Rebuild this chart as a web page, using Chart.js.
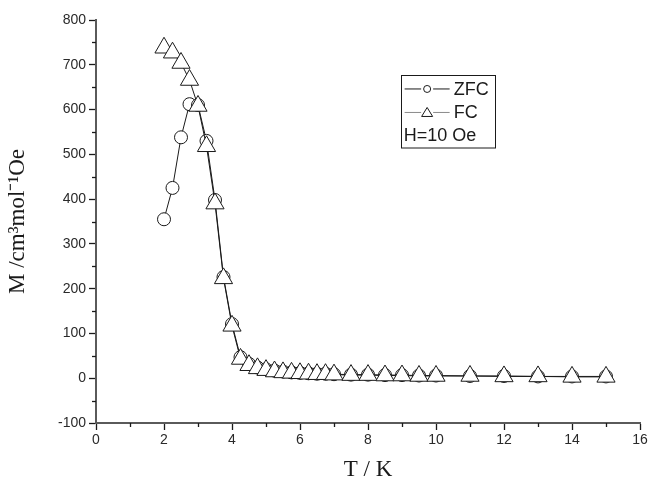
<!DOCTYPE html>
<html>
<head>
<meta charset="utf-8">
<script src="https://cdn.jsdelivr.net/npm/chart.js@4/dist/chart.umd.min.js"></script>
<style>
  html, body { margin: 0; padding: 0; background: #fff; }
  #wrap { width: 653px; height: 488px; }
</style>
</head>
<body>
<div id="wrap"><canvas id="chart" width="653" height="488"></canvas></div>
<script>
// ── Data ───────────────────────────────────────────────────────
const temps = [2, 2.25, 2.5, 2.75, 3, 3.25, 3.5, 3.75, 4, 4.25, 4.5, 4.75, 5, 5.25,
               5.5, 5.75, 6, 6.25, 6.5, 6.75, 7, 7.5, 8, 8.5, 9, 9.5, 10, 11, 12, 13, 14, 15];
const zfc   = [355, 425, 538, 612, 610, 530, 398, 226, 121, 47, 32, 24, 20, 17,
               15, 13, 12, 11, 10, 10, 9, 8, 8, 7, 7, 6, 6, 5, 5, 4, 4, 4];
const fc    = [738, 727, 704, 666, 608, 518, 390, 223, 117, 43, 29, 22, 18, 15,
               13, 12, 11, 10, 9, 9, 8, 7, 7, 6, 6, 5, 5, 5, 4, 4, 3, 3];
const legendLabels = ['ZFC', 'FC'];
const legendNote   = 'H=10 Oe';

const INK  = '#1a1a1a';
const AXIS = '#5a5a5a';

// ── Plugins ────────────────────────────────────────────────────

/** Short minor ticks halfway between the major ones. */
const minorTicks = {
  id: 'minorTicks',
  afterDraw(chart) {
    const { ctx, scales: { x, y } } = chart;
    ctx.save();
    ctx.strokeStyle = INK;
    ctx.lineWidth = 1.3;
    for (let v = x.min + 1; v < x.max; v += 2) {
      const px = Math.round(x.getPixelForValue(v)) + 0.5;
      ctx.beginPath(); ctx.moveTo(px, x.top); ctx.lineTo(px, x.top + 4); ctx.stroke();
    }
    for (let v = y.min + 50; v < y.max; v += 100) {
      const py = Math.round(y.getPixelForValue(v)) + 0.5;
      ctx.beginPath(); ctx.moveTo(y.right, py); ctx.lineTo(y.right - 4, py); ctx.stroke();
    }
    ctx.restore();
  }
};

/** Boxed legend inside the plot, with the field note underneath. */
const boxLegend = {
  id: 'boxLegend',
  afterDraw(chart) {
    const { ctx, chartArea: a } = chart;
    const left = a.left + (a.right - a.left) * 0.56;
    const top  = a.top + (a.bottom - a.top) * 0.137;
    const w = 94, rowH = 23.5, h = rowH * 3 + 2;
    ctx.save();
    ctx.strokeStyle = INK;
    ctx.lineWidth = 1;
    ctx.strokeRect(Math.round(left) + 0.5, Math.round(top) + 0.5, w, h);

    ctx.font = '18px "Liberation Sans", Arial, sans-serif';
    ctx.fillStyle = INK;
    ctx.textBaseline = 'middle';
    chart.data.datasets.forEach((ds, i) => {
      const cy = top + rowH * (i + 0.5) + 2;
      const x0 = left + 4, x1 = left + 49, cx = (x0 + x1) / 2;
      ctx.strokeStyle = i === 0 ? INK : '#8a8a8a';
      ctx.lineWidth = 1;
      ctx.beginPath(); ctx.moveTo(x0, cy); ctx.lineTo(cx - 6, cy); ctx.stroke();
      ctx.beginPath(); ctx.moveTo(cx + 6, cy); ctx.lineTo(x1, cy); ctx.stroke();
      ctx.strokeStyle = INK;
      ctx.beginPath();
      if (ds.pointStyle === 'triangle') {
        ctx.moveTo(cx, cy - 5); ctx.lineTo(cx + 5.5, cy + 4); ctx.lineTo(cx - 5.5, cy + 4); ctx.closePath();
      } else {
        ctx.arc(cx, cy, 3.5, 0, Math.PI * 2);
      }
      ctx.stroke();
      ctx.fillText(legendLabels[i], left + 53, cy + 1);
    });
    ctx.fillText(legendNote, left + 3, top + rowH * 2.5 + 2);
    ctx.restore();
  }
};

// ── Chart ──────────────────────────────────────────────────────
const tickFont = { family: '"Liberation Sans", Arial, sans-serif', size: 14 };
const titleFont = { family: '"Liberation Serif", "Times New Roman", serif', size: 23 };

new Chart(document.getElementById('chart').getContext('2d'), {
  type: 'line',
  data: {
    datasets: [
      {
        label: 'ZFC',
        data: temps.map((t, i) => ({ x: t, y: zfc[i] })),
        borderColor: INK, borderWidth: 1,
        pointStyle: 'circle', pointRadius: 6.5,
        pointBackgroundColor: '#fff', pointBorderColor: INK, pointBorderWidth: 1,
        order: 2,
      },
      {
        label: 'FC',
        data: temps.map((t, i) => ({ x: t, y: fc[i] })),
        borderColor: INK, borderWidth: 1,
        pointStyle: 'triangle', pointRadius: 10.5,
        pointBackgroundColor: '#fff', pointBorderColor: INK, pointBorderWidth: 1,
        order: 1,
      },
    ],
  },
  options: {
    animation: false,
    responsive: false,
    layout: { padding: { top: 20, right: 13, left: 0, bottom: 0 } },
    plugins: { legend: { display: false }, tooltip: { enabled: false } },
    scales: {
      x: {
        type: 'linear', min: 0, max: 16,
        ticks: { stepSize: 2, color: '#2a2a2a', font: tickFont, padding: 2, maxRotation: 0 },
        grid: { drawOnChartArea: false, tickLength: 7, tickColor: INK, tickWidth: 1.3 },
        border: { color: AXIS, width: 2 },
        title: { display: true, text: 'T / K', color: INK, font: titleFont, padding: { top: 8 } },
        afterFit(s) { s.height = 65; },
      },
      y: {
        min: -100, max: 800,
        ticks: { stepSize: 100, color: '#2a2a2a', font: tickFont, padding: 3 },
        grid: { drawOnChartArea: false, tickLength: 7, tickColor: INK, tickWidth: 1.3 },
        border: { color: AXIS, width: 2 },
        title: { display: true, text: 'M /cm³mol⁻¹Oe', color: INK, font: titleFont, padding: { bottom: 4 } },
        afterFit(s) { s.width = 96; },
      },
    },
  },
  plugins: [minorTicks, boxLegend],
});
</script>
</body>
</html>
